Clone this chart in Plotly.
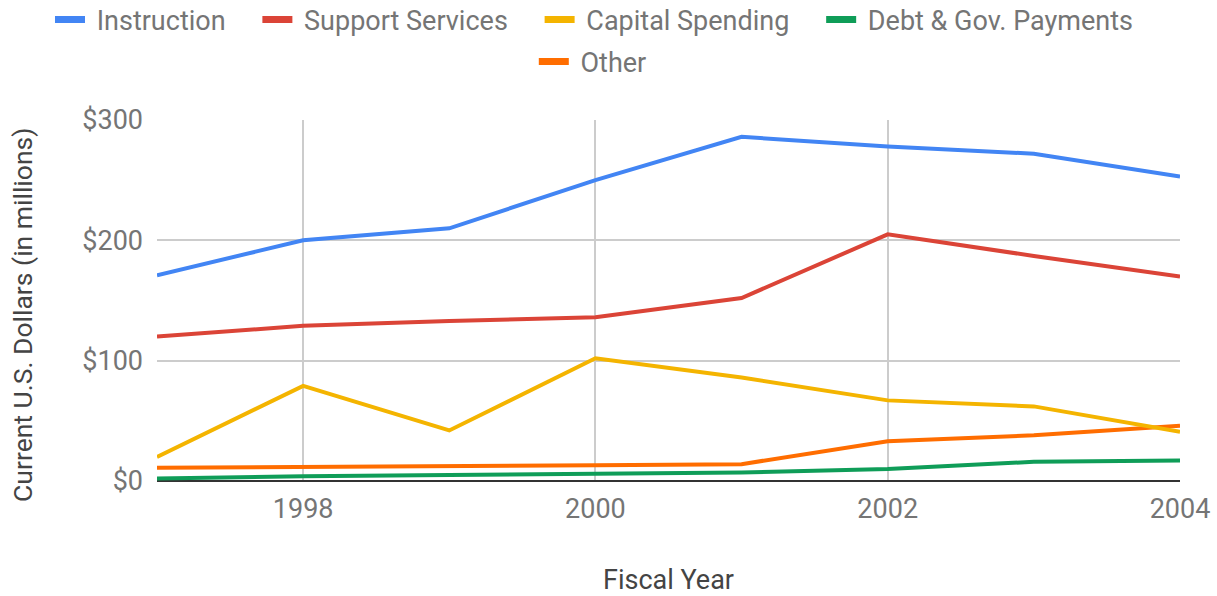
import plotly.graph_objects as go

# Fiscal years and spending per category (millions of current U.S. dollars)
years = [1997, 1998, 1999, 2000, 2001, 2002, 2003, 2004]
instruction = [171, 200, 210, 250, 286, 278, 272, 253]
support_services = [120, 129, 133, 136, 152, 205, 187, 170]
capital_spending = [20, 79, 42, 102, 86, 67, 62, 41]
debt_gov_payments = [2, 4, 5, 6, 7, 10, 16, 17]
other = [11, 11.5, 12, 13, 14, 33, 38, 46]

series_names = ["Instruction", "Support Services", "Capital Spending",
                "Debt & Gov. Payments", "Other"]
series_values = [instruction, support_services, capital_spending,
                 debt_gov_payments, other]
colors = ["#4285F4", "#DB4437", "#F4B400", "#0F9D58", "#FF6D00"]

x_ticks = [1998, 2000, 2002, 2004]
y_ticks = [0, 100, 200, 300]
y_tick_labels = ["$0", "$100", "$200", "$300"]

FONT = "Roboto"
SIZE = 27
NBSP = "\u00a0"
fig = go.Figure()

# Draw "Other" first so the remaining lines sit on top in series order
draw_order = [4, 3, 2, 1, 0]
for i in draw_order:
    fig.add_trace(go.Scatter(
        x=years, y=series_values[i], mode="lines", name=series_names[i],
        line=dict(color=colors[i], width=4), showlegend=False,
        hoverinfo="x+y+name",
    ))

# Legend entries with thicker swatches and some breathing room between items
for i, name in enumerate(series_names):
    in_second_row = name == "Other"
    label = NBSP + name + ("" if in_second_row else NBSP * 4)
    fig.add_trace(go.Scatter(
        x=[None], y=[None], mode="lines", name=label,
        line=dict(color=colors[i], width=7),
        legend="legend2" if in_second_row else "legend",
    ))

legend_style = dict(
    orientation="h", font=dict(family=FONT, size=SIZE, color="#757575"),
    bgcolor="rgba(0,0,0,0)", itemwidth=30, tracegroupgap=0,
)

fig.update_layout(
    width=1217, height=596,
    margin=dict(l=157, r=37, t=120, b=115, autoexpand=False),
    paper_bgcolor="white", plot_bgcolor="white",
    font=dict(family=FONT, color="#757575"),
    # first row starts left of the plot area so it may use the full width
    legend=dict(x=-0.1046, xanchor="left", y=1.277, yanchor="middle", **legend_style),
    legend2=dict(x=0.426, xanchor="center", y=1.161, yanchor="middle", **legend_style),
    xaxis=dict(
        range=[1997, 2004], tickvals=x_ticks, ticktext=[str(v) for v in x_ticks],
        showgrid=True, gridcolor="#CCCCCC", gridwidth=1.5,
        zeroline=False, showline=False,
        tickfont=dict(family=FONT, size=SIZE, color="#757575"),
        ticklabelstandoff=9,
        title=dict(text="Fiscal Year", font=dict(family=FONT, size=SIZE, color="#444444"),
                   standoff=52),
    ),
    yaxis=dict(
        range=[0, 300], tickvals=y_ticks, ticktext=y_tick_labels,
        showgrid=True, gridcolor="#CCCCCC", gridwidth=1.5,
        zeroline=True, zerolinecolor="#333333", zerolinewidth=1.5,
        tickfont=dict(family=FONT, size=SIZE, color="#757575"),
        ticklabelstandoff=13,
    ),
    # vertical axis title, placed slightly below the plot's vertical centre
    annotations=[dict(
        text="Current U.S. Dollars (in millions)", textangle=-90,
        xref="paper", yref="paper", x=-0.131, y=0.46,
        xanchor="center", yanchor="middle", showarrow=False,
        font=dict(family=FONT, size=26.5, color="#444444"),
    )],
)

fig.write_html("out.html")
